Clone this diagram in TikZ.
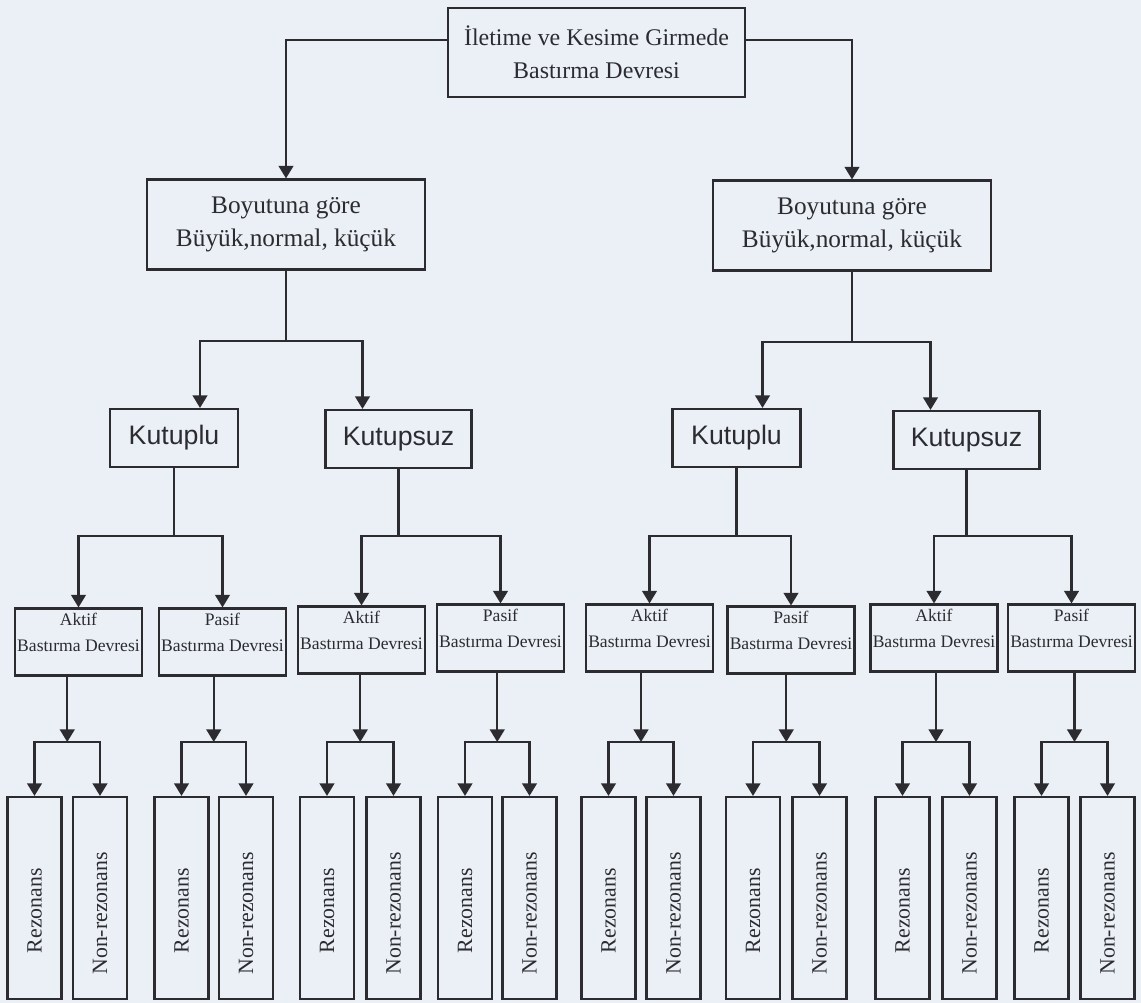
\documentclass[tikz,border=0pt]{standalone}
\usepackage{fontspec}
\setmainfont{Liberation Serif}
\setsansfont{Liberation Sans}
\usepackage{graphicx}
\usepackage{xcolor}
\definecolor{paper}{RGB}{234,240,246}
\definecolor{ink}{RGB}{44,44,48}
\usepackage{tikz}
\usetikzlibrary{arrows.meta}

\begin{document}
\begin{tikzpicture}[x=0.025cm, y=-0.025cm,
			box/.style={draw=ink, line width=1.5pt, inner sep=0pt, text=ink, align=center},
			root box/.style={box, minimum width=7.425cm, minimum height=2.225cm, font=\fontsize{17}{23.5}\selectfont},
			size box/.style={box, minimum width=6.95cm, minimum height=2.25cm, font=\fontsize{18}{23}\selectfont},
			pole box/.style={box, minimum width=#1, minimum height=1.45cm, font=\sffamily\fontsize{19}{22}\selectfont},
			circuit box/.style={box, minimum width=3.175cm, minimum height=1.675cm,
				label={[anchor=north, inner sep=0pt, yshift=-0.14cm, align=center, text=ink, font=\fontsize{12.5}{18}\selectfont]north:{#1}}},
			leaf box/.style={box, minimum width=1.35cm, minimum height=5.05cm, font=\fontsize{15.5}{18}\selectfont},
			link/.style={draw=ink, line width=1.5pt},
			arrow/.style={link, -{Triangle[width=10.5pt,length=9pt]}},
			]
			\fill[paper] (0,0) rectangle (1141,1003);
			
			\node[root box] (root) at (596.5,52.5) {İletime ve Kesime Girmede\\Bastırma Devresi};
			\node[size box] (b1) at (286,224.5) {Boyutuna göre\\Büyük,normal, küçük};
			\node[size box] (b2) at (852,225.5) {Boyutuna göre\\Büyük,normal, küçük};
			
			\node[pole box=3.2cm] (k1) at (174,438) {Kutuplu};
			\node[pole box=3.65cm] (u1) at (398.5,439) {Kutupsuz};
			\node[pole box=3.2cm] (k2) at (736.5,438) {Kutuplu};
			\node[pole box=3.65cm] (u2) at (966.5,440) {Kutupsuz};
			
			\node[circuit box={Aktif\\Bastırma Devresi}] (a1) at (78.5,642) {};
			\node[circuit box={Pasif\\Bastırma Devresi}] (p1) at (222.5,642) {};
			\node[circuit box={Aktif\\Bastırma Devresi}] (a2) at (361.5,640) {};
			\node[circuit box={Pasif\\Bastırma Devresi}] (p2) at (500.5,638) {};
			\node[circuit box={Aktif\\Bastırma Devresi}] (a3) at (649.5,638) {};
			\node[circuit box={Pasif\\Bastırma Devresi}] (p3) at (791,640) {};
			\node[circuit box={Aktif\\Bastırma Devresi}] (a4) at (934,638) {};
			\node[circuit box={Pasif\\Bastırma Devresi}] (p4) at (1071.5,638) {};
			
			\node[leaf box] (r1) at (34.5,898) {\rotatebox{90}{Rezonans\hspace{18pt}}};
			\node[leaf box] (n1) at (100,898) {\rotatebox{90}{Non-rezonans\hspace{22pt}}};
			\node[leaf box] (r2) at (181.5,898) {\rotatebox{90}{Rezonans\hspace{18pt}}};
			\node[leaf box] (n2) at (246,898) {\rotatebox{90}{Non-rezonans\hspace{22pt}}};
			\node[leaf box] (r3) at (327,898) {\rotatebox{90}{Rezonans\hspace{18pt}}};
			\node[leaf box] (n3) at (393.5,898) {\rotatebox{90}{Non-rezonans\hspace{22pt}}};
			\node[leaf box] (r4) at (465,898) {\rotatebox{90}{Rezonans\hspace{18pt}}};
			\node[leaf box] (n4) at (529.5,898) {\rotatebox{90}{Non-rezonans\hspace{22pt}}};
			\node[leaf box] (r5) at (608.5,898) {\rotatebox{90}{Rezonans\hspace{18pt}}};
			\node[leaf box] (n5) at (673.5,898) {\rotatebox{90}{Non-rezonans\hspace{22pt}}};
			\node[leaf box] (r6) at (753,898) {\rotatebox{90}{Rezonans\hspace{18pt}}};
			\node[leaf box] (n6) at (819.5,898) {\rotatebox{90}{Non-rezonans\hspace{22pt}}};
			\node[leaf box] (r7) at (902.5,898) {\rotatebox{90}{Rezonans\hspace{18pt}}};
			\node[leaf box] (n7) at (969.5,898) {\rotatebox{90}{Non-rezonans\hspace{22pt}}};
			\node[leaf box] (r8) at (1041.5,898) {\rotatebox{90}{Rezonans\hspace{18pt}}};
			\node[leaf box] (n8) at (1107.5,898) {\rotatebox{90}{Non-rezonans\hspace{22pt}}};
			
			\coordinate (g1) at (67.25,742);
			\coordinate (g2) at (213.75,742);
			\coordinate (g3) at (360.25,742);
			\coordinate (g4) at (497.25,742);
			\coordinate (g5) at (641,742);
			\coordinate (g6) at (786.25,742);
			\coordinate (g7) at (936,742);
			\coordinate (g8) at (1074.5,742);
			
			\draw[arrow] ([yshift=0.31cm]root.west) -| (b1);
			\draw[arrow] ([yshift=0.31cm]root.east) -| (b2);
			
			\draw[link] (b1.south) -- ++(0,70) coordinate (j1);
			\draw[arrow] (j1) -| ([xshift=0.65cm]k1.north);
			\draw[arrow] (j1) -| ([xshift=-0.9cm]u1.north);
			\draw[link] (b2.south) -- ++(0,70) coordinate (j2);
			\draw[arrow] (j2) -| ([xshift=0.65cm]k2.north);
			\draw[arrow] (j2) -| ([xshift=-0.9cm]u2.north);
			
			\draw[link] (k1.south) -- ++(0,68) coordinate (j3);
			\draw[arrow] (j3) -| (a1); \draw[arrow] (j3) -| (p1);
			\draw[link] (u1.south) -- ++(0,67) coordinate (j4);
			\draw[arrow] (j4) -| (a2); \draw[arrow] (j4) -| (p2);
			\draw[link] (k2.south) -- ++(0,68) coordinate (j5);
			\draw[arrow] (j5) -| (a3); \draw[arrow] (j5) -| (p3);
			\draw[link] (u2.south) -- ++(0,66) coordinate (j6);
			\draw[arrow] (j6) -| (a4); \draw[arrow] (j6) -| (p4);
			
			\draw[arrow] (a1.south -| g1) -- (g1); \draw[arrow] (g1) -| (r1); \draw[arrow] (g1) -| (n1);
			\draw[arrow] (p1.south -| g2) -- (g2); \draw[arrow] (g2) -| (r2); \draw[arrow] (g2) -| (n2);
			\draw[arrow] (a2.south -| g3) -- (g3); \draw[arrow] (g3) -| (r3); \draw[arrow] (g3) -| (n3);
			\draw[arrow] (p2.south -| g4) -- (g4); \draw[arrow] (g4) -| (r4); \draw[arrow] (g4) -| (n4);
			\draw[arrow] (a3.south -| g5) -- (g5); \draw[arrow] (g5) -| (r5); \draw[arrow] (g5) -| (n5);
			\draw[arrow] (p3.south -| g6) -- (g6); \draw[arrow] (g6) -| (r6); \draw[arrow] (g6) -| (n6);
			\draw[arrow] (a4.south -| g7) -- (g7); \draw[arrow] (g7) -| (r7); \draw[arrow] (g7) -| (n7);
			\draw[arrow] (p4.south -| g8) -- (g8); \draw[arrow] (g8) -| (r8); \draw[arrow] (g8) -| (n8);
			
		\end{tikzpicture}
\end{document}
